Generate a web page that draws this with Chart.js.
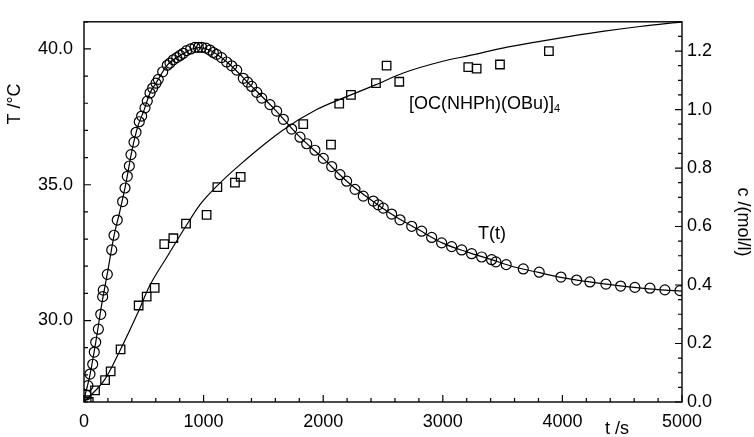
<!DOCTYPE html>
<html>
<head>
<meta charset="utf-8">
<script src="https://cdn.jsdelivr.net/npm/chart.js@4/dist/chart.umd.min.js"></script>
<style>
  html, body { margin: 0; padding: 0; background: #fff; }
  #grafico { display: block; }
</style>
</head>
<body>
<canvas id="grafico" width="754" height="437"></canvas>
<script>
// temperature readings (circles)
const tempTime = [17, 33, 50, 73, 86, 98, 120, 140, 156, 161, 195, 232, 251, 278, 323, 343, 362, 379, 393, 418,
    435, 462, 482, 510, 529, 552, 574, 602, 621, 658, 696, 719, 747, 775, 803, 830, 858, 892, 928, 956,
    984, 1020, 1053, 1081, 1109, 1150, 1193, 1235, 1277, 1332, 1368, 1402, 1445, 1486, 1555, 1611, 1667, 1736, 1806, 1862,
    1931, 2001, 2071, 2140, 2196, 2266, 2335, 2419, 2460, 2502, 2572, 2642, 2740, 2823, 2907, 2990, 3074, 3158, 3241, 3325,
    3408, 3444, 3530, 3673, 3806, 3988, 4119, 4230, 4364, 4487, 4606, 4732, 4857, 4983];
const tempVals = [27.26, 27.6, 28.03, 28.39, 28.84, 29.2, 29.68, 30.23, 30.88, 31.12, 31.70, 32.60, 33.14, 33.70, 34.38, 34.88, 35.31, 35.69, 36.11, 36.57,
    36.93, 37.32, 37.53, 37.83, 38.08, 38.38, 38.56, 38.74, 38.88, 39.16, 39.40, 39.48, 39.60, 39.68, 39.76, 39.84, 39.94, 40.00, 40.06, 40.06,
    40.06, 40.03, 39.96, 39.87, 39.80, 39.68, 39.52, 39.38, 39.22, 38.92, 38.78, 38.62, 38.40, 38.19, 37.95, 37.71, 37.41, 37.05, 36.75, 36.51,
    36.27, 35.97, 35.67, 35.37, 35.13, 34.83, 34.58, 34.40, 34.26, 34.14, 33.92, 33.71, 33.47, 33.29, 33.06, 32.86, 32.72, 32.60, 32.46, 32.34,
    32.24, 32.16, 32.06, 31.90, 31.78, 31.60, 31.49, 31.42, 31.34, 31.27, 31.22, 31.19, 31.13, 31.10];

// fitted T(t) curve
const fitTTime = [0, 50, 100, 150, 200, 250, 300, 350, 400, 450, 500, 550, 600, 700, 800, 900, 960, 1050, 1200, 1400,
    1600, 1800, 2000, 2200, 2400, 2600, 2800, 3000, 3200, 3400, 3600, 3800, 4000, 4200, 4400, 4600, 4800, 5000];
const fitTVals = [27.1, 28.0, 29.25, 30.64, 31.85, 33.1, 34.03, 35.04, 36.24, 37.15, 37.72, 38.36, 38.73, 39.42, 39.75, 39.99, 40.05, 39.96, 39.5, 38.63,
    37.75, 36.78, 35.97, 35.12, 34.44, 33.84, 33.34, 32.85, 32.53, 32.25, 31.97, 31.77, 31.58, 31.44, 31.32, 31.22, 31.14, 31.08];

// concentration readings (squares)
const concTime = [22, 40, 92, 176, 223, 306, 457, 524, 591, 671, 747, 853, 1025, 1115, 1262, 1310, 1833, 2065, 2134, 2232,
    2441, 2530, 2636, 3213, 3283, 3478, 3887];
const concVals = [0.006, 0.0, 0.04, 0.075, 0.105, 0.18, 0.33, 0.36, 0.39, 0.54, 0.56, 0.61, 0.64, 0.735, 0.75, 0.77, 0.95, 0.88, 1.02, 1.05,
    1.09, 1.15, 1.095, 1.145, 1.14, 1.154, 1.20];

// fitted c(t) curve
const fitCTime = [0, 176, 300, 450, 550, 700, 850, 970, 1115, 1300, 1665, 1945, 2232, 2441, 2670, 3000, 3227, 3500, 3812, 4063, 4350, 4648, 5000];
const fitCVals = [0, 0.078, 0.175, 0.305, 0.398, 0.50, 0.60, 0.675, 0.74, 0.81, 0.93, 1.0, 1.05, 1.085, 1.125, 1.165, 1.185, 1.21, 1.233, 1.25, 1.268, 1.284, 1.30];

// tick labels
const xTicks = [0, 1000, 2000, 3000, 4000, 5000];
const tTicks = [30, 35, 40];
const cTicks = [0, 0.2, 0.4, 0.6, 0.8, 1.0, 1.2];

const pares = (xs, ys) => xs.map((x, i) => ({ x: x, y: ys[i] }));

Chart.defaults.font.family = "'Liberation Sans', Arial, sans-serif";
Chart.defaults.font.size = 18;
Chart.defaults.color = '#000';

const FUENTE = "18px 'Liberation Sans', Arial, sans-serif";

// frame, inward ticks, axis titles and labels
const marco = {
    id: 'marco',
    afterDraw(chart) {
        const ctx = chart.ctx;
        const a = chart.chartArea;
        const sx = chart.scales.x, sT = chart.scales.yT, sC = chart.scales.yC;
        ctx.save();
        ctx.strokeStyle = '#000';
        ctx.lineWidth = 1.4;
        ctx.strokeRect(a.left, a.top, a.right - a.left, a.bottom - a.top);

        ctx.lineWidth = 1.2;
        ctx.beginPath();
        for (let v = 0; v <= 5000; v += 200) {
            const p = sx.getPixelForValue(v);
            const l = v % 1000 === 0 ? 7 : 4;
            ctx.moveTo(p, a.bottom);
            ctx.lineTo(p, a.bottom - l);
        }
        for (let v = 27; v <= 41; v++) {
            const p = sT.getPixelForValue(v);
            const l = v % 5 === 0 ? 7 : 4;
            ctx.moveTo(a.left, p);
            ctx.lineTo(a.left + l, p);
        }
        for (let i = 0; i <= 26; i++) {
            const p = sC.getPixelForValue(i * 0.05);
            const l = i % 4 === 0 ? 7 : 4;
            ctx.moveTo(a.right, p);
            ctx.lineTo(a.right - l, p);
        }
        ctx.stroke();

        ctx.fillStyle = '#000';
        ctx.font = FUENTE;
        ctx.textAlign = 'center';
        ctx.textBaseline = 'middle';

        ctx.save();
        ctx.translate(15, 104);
        ctx.rotate(-Math.PI / 2);
        ctx.fillText('T /°C', 0, 0);
        ctx.restore();

        ctx.save();
        ctx.translate(743, 222);
        ctx.rotate(Math.PI / 2);
        ctx.fillText('c /(mol/l)', 0, 0);
        ctx.restore();

        ctx.fillText('t /s', 617, 429);

        // series labels
        ctx.fillText('T(t)', sx.getPixelForValue(3411), sT.getPixelForValue(33.18));
        ctx.textAlign = 'left';
        ctx.textBaseline = 'alphabetic';
        const lx = sx.getPixelForValue(2717), ly = sC.getPixelForValue(1.003);
        const txt = '[OC(NHPh)(OBu)]';
        ctx.fillText(txt, lx, ly);
        const w = ctx.measureText(txt).width;
        ctx.font = "11px 'Liberation Sans', Arial, sans-serif";
        ctx.fillText('4', lx + w, ly + 3);
        ctx.restore();
    }
};

new Chart(document.getElementById('grafico').getContext('2d'), {
    type: 'scatter',
    data: {
        datasets: [{
                label: 'T fit',
                data: pares(fitTTime, fitTVals),
                yAxisID: 'yT',
                showLine: true,
                pointRadius: 0,
                borderColor: '#000',
                borderWidth: 1.2,
                cubicInterpolationMode: 'monotone'
            },
            {
                label: 'T',
                data: pares(tempTime, tempVals),
                yAxisID: 'yT',
                pointStyle: 'circle',
                pointRadius: 5,
                pointBorderWidth: 1.2,
                borderColor: '#000',
                backgroundColor: 'rgba(0,0,0,0)'
            },
            {
                label: 'c fit',
                data: pares(fitCTime, fitCVals),
                yAxisID: 'yC',
                showLine: true,
                pointRadius: 0,
                borderColor: '#000',
                borderWidth: 1.2,
                cubicInterpolationMode: 'monotone'
            },
            {
                label: 'c',
                data: pares(concTime, concVals),
                yAxisID: 'yC',
                pointStyle: 'rect',
                pointRadius: 6,
                pointBorderWidth: 1.3,
                borderColor: '#000',
                backgroundColor: 'rgba(0,0,0,0)'
            }
        ]
    },
    options: {
        responsive: false,
        animation: false,
        devicePixelRatio: 1,
        layout: { padding: { top: 15, left: 0, right: 0, bottom: 0 } },
        plugins: {
            legend: { display: false },
            tooltip: { enabled: false }
        },
        scales: {
            x: {
                type: 'linear',
                min: 0,
                max: 5000,
                grid: { display: false, drawTicks: false },
                border: { display: false },
                afterBuildTicks: s => { s.ticks = xTicks.map(v => ({ value: v })); },
                afterFit: s => { s.height = 35; },
                ticks: { padding: 9, maxRotation: 0, callback: v => String(v) }
            },
            yT: {
                type: 'linear',
                position: 'left',
                min: 27,
                max: 41,
                grid: { display: false, drawTicks: false },
                border: { display: false },
                afterBuildTicks: s => { s.ticks = tTicks.map(v => ({ value: v })); },
                afterFit: s => { s.width = 84; },
                ticks: { padding: 11, callback: v => v.toFixed(1) }
            },
            yC: {
                type: 'linear',
                position: 'right',
                min: 0,
                max: 1.3,
                grid: { display: false, drawTicks: false },
                border: { display: false },
                afterBuildTicks: s => { s.ticks = cTicks.map(v => ({ value: v })); },
                afterFit: s => { s.width = 72; },
                ticks: { padding: 5, callback: v => v.toFixed(1) }
            }
        }
    },
    plugins: [marco]
});
</script>
</body>
</html>
